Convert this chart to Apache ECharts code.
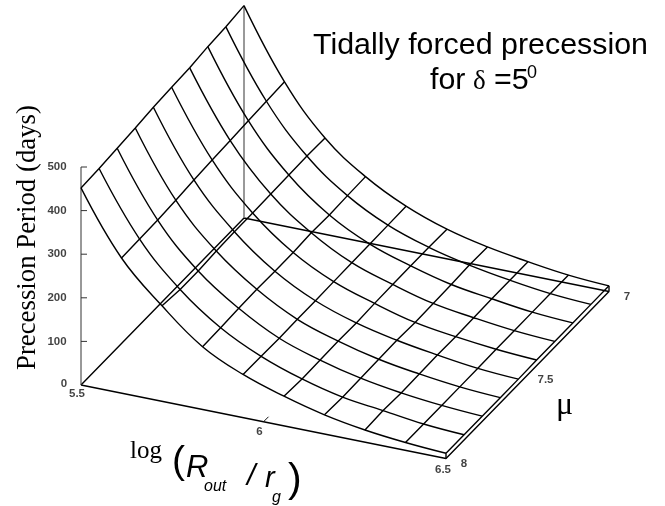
<!DOCTYPE html>
<html>
<head>
<meta charset="utf-8">
<style>html,body{margin:0;padding:0;background:#fff}#chart{width:665px;height:506px}</style>
<script src="https://cdn.jsdelivr.net/npm/echarts@6/dist/echarts.min.js"></script>
</head>
<body>
<div id="chart"></div>
<script>
// mesh nodes
const logRNodes = [5.5, 5.611, 5.722, 5.833, 5.944, 6.056, 6.167, 6.278, 6.389, 6.5]
const muNodes = [8, 7.889, 7.778, 7.667, 7.556, 7.444, 7.333, 7.222, 7.111, 7]

// precession period (days), one list per logR node, mu going 8 -> 7
const period0 = [452, 454, 458, 462, 467, 470, 472, 478, 481, 487]
const period1 = [310, 311, 312, 315, 319, 322, 324, 327, 329, 331]
const period2 = [219, 214, 214, 217, 219, 219, 220, 221, 222, 221]
const period3 = [144, 145, 147, 148, 147, 147, 150, 148, 150, 151]
const period4 = [99, 98, 97, 98, 98, 99, 100, 100, 101, 102]
const period5 = [68, 65, 66, 67, 66, 68, 69, 69, 69, 68]
const period6 = [44, 42, 43, 44, 45, 43, 44, 45, 47, 46]
const period7 = [28, 30, 28, 29, 30, 29, 30, 31, 31, 31]
const period8 = [18, 18, 18, 18, 18, 19, 19, 19, 19, 19]
const period9 = [12, 12, 12, 12, 12, 13, 13, 13, 13, 13]
const periods = [period0, period1, period2, period3, period4, period5, period6, period7, period8, period9]

const zTicks = [0, 100, 200, 300, 400, 500]
const logRTicks = [5.5, 6, 6.5]
const muTicks = [8, 7.5, 7]

// oblique projection of the 3d box onto the page
function project(logR, mu, p) {
  const u = logR - 5.5
  const v = 8 - mu
  return [81 + 365 * u + 163 * v, 385 + 73.5 * u - 167 * v - 0.436 * p]
}

function line(points, color, width, smooth) {
  return {
    type: 'line',
    data: points,
    showSymbol: false,
    silent: true,
    animation: false,
    smooth: smooth || false,
    lineStyle: { color: color || '#000', width: width || 1.4 }
  }
}

const series = []

// box edges on the floor plus the vertical axes
series.push(line([project(5.5, 8, 0), project(6.5, 8, 0), project(6.5, 7, 0), project(5.5, 7, 0), project(5.5, 8, 0)]))
series.push(line([project(5.5, 8, 0), project(5.5, 8, 500)], '#333', 1))
series.push(line([project(5.5, 7, 0), project(5.5, 7, period0[9])], '#777', 1.5))
series.push(line([project(6.5, 8, 0), project(6.5, 8, period9[0])]))
series.push(line([project(6.5, 7, 0), project(6.5, 7, period9[9])]))

// surface
periods.forEach((row, i) => {
  series.push(line(row.map((p, j) => project(logRNodes[i], muNodes[j], p))))
})
muNodes.forEach((mu, j) => {
  series.push(line(periods.map((row, i) => project(logRNodes[i], mu, row[j])), '#000', 1.4, 0.4))
})

// ticks
zTicks.slice(1).forEach(t => {
  const a = project(5.5, 8, t)
  series.push(line([a, [a[0] + 6, a[1]]], '#333', 1))
})
const midR = project(6, 8, 0)
series.push(line([midR, [midR[0] + 5, midR[1] - 5]], '#111', 1))

function tickLabels(items, dx, dy) {
  return {
    type: 'scatter',
    symbolSize: 0,
    silent: true,
    animation: false,
    data: items.map(it => ({ value: it.pos, name: String(it.text) })),
    label: {
      show: true,
      position: [dx, dy],
      align: 'center',
      verticalAlign: 'middle',
      formatter: '{b}',
      color: '#111',
      fontFamily: 'Liberation Sans',
      fontWeight: 'bold',
      fontSize: 11.5
    }
  }
}

series.push(tickLabels(zTicks.slice(1).map(t => ({ text: t, pos: project(5.5, 8, t) })), -24, 0))
series.push(tickLabels([{ text: zTicks[0], pos: project(5.5, 8, 0) }], -17, -1))
series.push(tickLabels([{ text: logRTicks[0], pos: project(logRTicks[0], 8, 0) }], -4, 9))
series.push(tickLabels([{ text: logRTicks[1], pos: project(logRTicks[1], 8, 0) }], -4, 10))
series.push(tickLabels([{ text: logRTicks[2], pos: project(logRTicks[2], 8, 0) }], -3, 11))
series.push(tickLabels(muTicks.map(m => ({ text: m, pos: project(6.5, m, 0) })), 18, 5))

// x,y is the start of the baseline; zrender anchors at the top of the line box
function text(str, x, y, size, family, italic, rotated) {
  const shift = (rotated ? 0.82 : 0.75) * size
  return {
    type: 'text',
    x: rotated ? x - shift : x,
    y: rotated ? y : y - shift,
    rotation: rotated ? Math.PI / 2 : 0,
    silent: true,
    style: { text: str, font: `${italic ? 'italic ' : ''}${size}px ${family}`, fill: '#000' }
  }
}

const sans = '"Liberation Sans"'
const serif = '"Liberation Serif"'

const chart = echarts.init(document.getElementById('chart'), null, { renderer: 'canvas' })
chart.setOption({
  animation: false,
  backgroundColor: '#fff',
  grid: { left: 0, right: 0, top: 0, bottom: 0 },
  xAxis: { type: 'value', min: 0, max: 665, show: false },
  yAxis: { type: 'value', min: 0, max: 506, inverse: true, show: false },
  series,
  graphic: [
    text('Tidally forced precession', 313, 53, 30.4, sans),
    text('for', 430, 88, 30.4, sans),
    text('δ', 473, 89, 27, serif),
    text('=5', 494, 88, 30.4, sans),
    text('0', 527, 78, 18, sans),
    text('μ', 556, 414, 32, serif),
    text('Precession Period (days)', 36, 370, 26.8, serif, false, true),
    text('log', 130, 458, 25, serif),
    text('(', 172, 472, 39, sans),
    text('R', 186, 476, 31, sans, true),
    text('out', 204, 491, 16, sans, true),
    text('/', 247, 484, 30, sans, true),
    text('r', 265, 486, 29, sans, true),
    text('g', 272, 502, 16, sans, true),
    text(')', 288, 491, 41, sans)
  ]
})
</script>
</body>
</html>
